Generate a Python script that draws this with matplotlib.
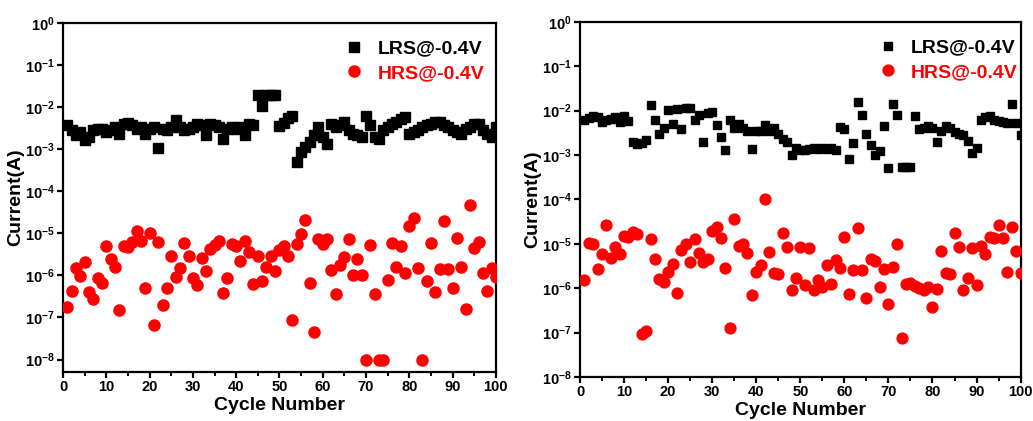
"""
LRS / HRS read currents over 100 switching cycles (two devices)
"""
import numpy as np
import matplotlib
matplotlib.use("Agg")
import matplotlib.pyplot as plt
from matplotlib.ticker import MultipleLocator, FixedLocator, FuncFormatter, NullLocator

plt.rcParams['font.family'] = ['Liberation Sans', 'DejaVu Sans']
plt.rcParams['mathtext.fontset'] = 'custom'
plt.rcParams['mathtext.rm'] = 'Liberation Sans'
plt.rcParams['mathtext.bf'] = 'Liberation Sans:bold'

cycles = np.arange(1, 101)
lrs_label = 'LRS@-0.4V'
hrs_label = 'HRS@-0.4V'

# log10(current / A)
left_lrs_log = [
    -2.43, -2.55, -2.67, -2.59, -2.79, -2.71, -2.55, -2.51, -2.51, -2.59,
    -2.55, -2.47, -2.63, -2.39, -2.38, -2.43, -2.51, -2.47, -2.63, -2.51,
    -2.47, -2.98, -2.51, -2.55, -2.47, -2.31, -2.47, -2.55, -2.51, -2.47,
    -2.39, -2.43, -2.67, -2.39, -2.43, -2.47, -2.75, -2.51, -2.47, -2.51,
    -2.47, -2.67, -2.39, -2.43, -1.72, -1.98, -1.72, -1.71, -1.72, -2.45,
    -2.38, -2.25, -2.20, -3.30, -3.06, -2.94, -2.83, -2.65, -2.47, -2.70,
    -2.88, -2.40, -2.47, -2.43, -2.35, -2.55, -2.63, -2.67, -2.71, -2.20,
    -2.43, -2.71, -2.75, -2.55, -2.47, -2.40, -2.35, -2.28, -2.24, -2.63,
    -2.59, -2.55, -2.47, -2.43, -2.40, -2.35, -2.35, -2.43, -2.47, -2.55,
    -2.59, -2.63, -2.51, -2.47, -2.40, -2.40, -2.55, -2.63, -2.71, -2.47,
]
left_hrs_log = [
    -6.75, -6.37, -5.83, -6.02, -5.67, -6.39, -6.57, -6.05, -6.18, -5.29,
    -5.60, -5.80, -6.81, -5.31, -5.33, -5.21, -4.94, -5.17, -6.31, -4.99,
    -7.19, -5.21, -6.70, -6.29, -5.53, -6.03, -5.83, -5.24, -5.53, -6.07,
    -6.22, -5.58, -5.90, -5.37, -5.28, -5.18, -6.42, -6.06, -5.26, -5.31,
    -5.66, -5.19, -5.44, -6.21, -5.54, -6.13, -5.79, -5.53, -5.89, -5.39,
    -5.29, -5.53, -7.06, -5.25, -5.02, -4.68, -6.19, -7.35, -5.14, -5.26,
    -5.14, -5.86, -6.45, -5.75, -5.56, -5.14, -5.98, -5.61, -5.98, -8.00,
    -5.27, -6.44, -8.00, -8.00, -6.12, -5.22, -5.80, -5.31, -5.94, -4.83,
    -4.64, -5.83, -8.00, -6.13, -5.22, -6.40, -5.84, -4.71, -5.84, -6.29,
    -5.11, -5.80, -6.80, -4.32, -5.35, -5.21, -5.94, -6.36, -5.83, -6.03,
]
right_lrs_log = [
    -2.22, -2.17, -2.13, -2.15, -2.25, -2.22, -2.18, -2.15, -2.26, -2.12,
    -2.24, -2.70, -2.74, -2.72, -2.65, -1.87, -2.20, -2.52, -2.40, -1.98,
    -2.30, -1.96, -2.42, -1.95, -1.93, -2.22, -2.10, -2.70, -2.05, -2.03,
    -2.33, -2.60, -2.89, -2.22, -2.40, -2.30, -2.38, -2.45, -2.87, -2.45,
    -2.45, -2.32, -2.45, -2.40, -2.52, -2.63, -2.70, -3.00, -2.85, -2.88,
    -2.88, -2.86, -2.83, -2.86, -2.83, -2.87, -2.84, -2.88, -2.36, -2.42,
    -3.08, -2.72, -1.80, -2.09, -2.52, -2.78, -3.00, -2.90, -2.35, -3.30,
    -1.84, -2.10, -3.26, -3.26, -3.26, -2.13, -2.41, -2.40, -2.35, -2.40,
    -2.70, -2.45, -2.35, -2.40, -2.48, -2.52, -2.55, -2.68, -2.95, -2.83,
    -2.20, -2.15, -2.12, -2.22, -2.24, -2.25, -2.27, -1.86, -2.28, -2.55,
]
right_hrs_log = [
    -5.81, -4.98, -5.01, -5.56, -5.24, -4.57, -5.33, -5.06, -5.24, -4.83,
    -4.85, -4.73, -4.78, -7.03, -6.96, -4.90, -5.34, -5.80, -5.86, -5.63,
    -5.45, -6.10, -5.15, -5.00, -5.42, -4.90, -5.21, -5.42, -5.35, -4.71,
    -4.61, -4.86, -5.54, -6.89, -4.45, -5.05, -5.00, -5.20, -6.16, -5.63,
    -5.48, -4.00, -5.18, -5.66, -5.69, -4.76, -5.07, -6.03, -5.78, -5.08,
    -5.93, -5.09, -6.04, -5.82, -5.97, -5.48, -5.91, -5.37, -5.54, -4.85,
    -6.14, -5.60, -4.64, -5.58, -6.21, -5.34, -5.39, -5.97, -5.56, -6.36,
    -5.52, -5.00, -7.12, -5.90, -5.88, -5.95, -5.99, -6.03, -5.97, -6.42,
    -6.01, -5.17, -5.65, -5.69, -4.76, -5.07, -6.03, -5.77, -5.09, -5.92,
    -5.05, -5.24, -4.85, -4.86, -4.58, -4.86, -5.63, -4.61, -5.17, -5.65,
]


def sci_label(v, pos):
    return r'$\mathbf{10^{%d}}$' % int(round(np.log10(v)))


def style_axis(ax, ymin):
    ax.set_yscale('log')
    ax.set_xlim(0, 100)
    ax.set_ylim(ymin, 1)
    ax.xaxis.set_major_locator(MultipleLocator(10))
    ax.xaxis.set_minor_locator(MultipleLocator(5))
    ax.yaxis.set_major_locator(FixedLocator([10.0 ** k for k in range(-8, 1)]))
    ax.yaxis.set_minor_locator(NullLocator())
    ax.yaxis.set_major_formatter(FuncFormatter(sci_label))
    for s in ax.spines.values():
        s.set_linewidth(1.6)
    ax.tick_params(which='major', direction='out', length=4, width=1.6,
                   labelsize=10.5, pad=2, top=False, right=False)
    ax.tick_params(which='minor', direction='out', length=3, width=1.4,
                   top=False, right=False)
    for lab in ax.get_xticklabels():
        lab.set_fontweight('bold')
    ax.set_xlabel('Cycle Number', fontsize=14, fontweight='bold', labelpad=2)
    ax.set_ylabel('Current(A)', fontsize=14, fontweight='bold', labelpad=0)


def draw_panel(ax, lrs_log, hrs_log, ymin, sq, dot, leg_x):
    lrs = 10.0 ** np.array(lrs_log)
    hrs = 10.0 ** np.array(hrs_log)
    ax.plot(cycles, lrs, 's', color='black', markersize=sq, linestyle='none',
            label=lrs_label, zorder=3)
    ax.plot(cycles, hrs, 'o', color='red', markersize=dot, linestyle='none',
            label=hrs_label, zorder=3)
    style_axis(ax, ymin)
    ax.legend(loc='upper right', bbox_to_anchor=(leg_x, 0.985), frameon=False,
              prop={'size': 14, 'weight': 'bold'}, labelcolor=['black', 'red'],
              handletextpad=0.6, labelspacing=0.35, borderaxespad=0.2,
              markerscale=1.0, handlelength=1.2)


fig = plt.figure(figsize=(10.33, 4.21), dpi=100)
ax1 = fig.add_axes([0.061, 0.116, 0.419, 0.829])
ax2 = fig.add_axes([0.5615, 0.1045, 0.4265, 0.8435])

draw_panel(ax1, left_lrs_log, left_hrs_log, 10.0 ** -8.3, 6.5, 8.0, 1.0)
draw_panel(ax2, right_lrs_log, right_hrs_log, 1e-8, 6.0, 7.8, 1.02)

fig.savefig('out.png', dpi=100)
